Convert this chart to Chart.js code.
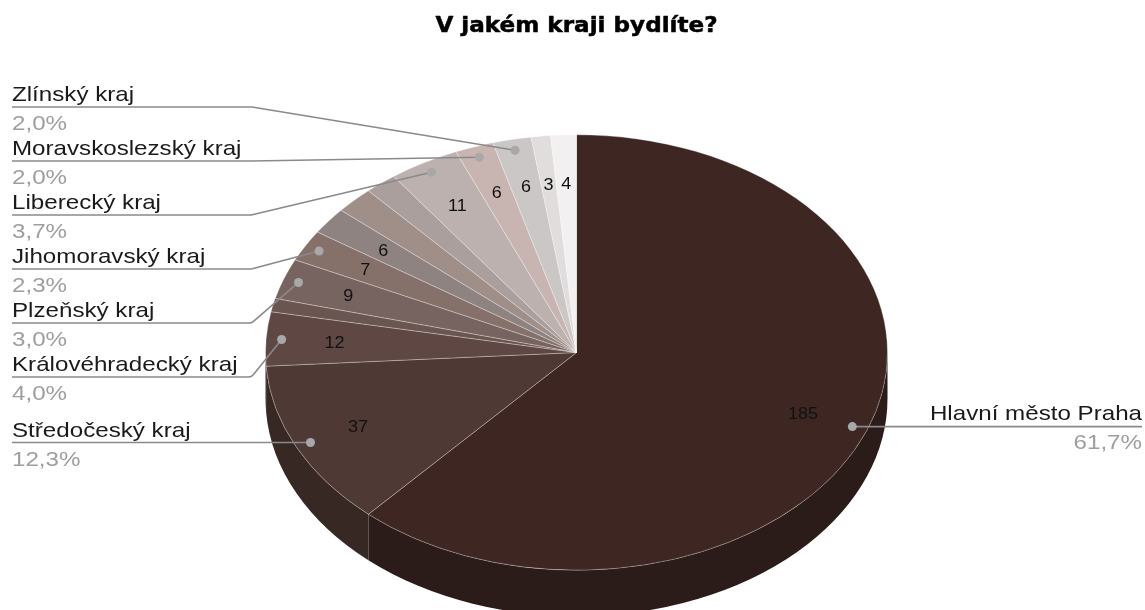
<!DOCTYPE html>
<html>
<head>
<meta charset="utf-8">
<script src="https://cdn.jsdelivr.net/npm/chart.js@4.4.1/dist/chart.umd.min.js"></script>
<style>
  html, body { margin: 0; padding: 0; background: #ffffff; overflow: hidden; }
  #wrap { position: relative; width: 1145px; height: 610px; overflow: hidden; }
  canvas { display: block; }
</style>
</head>
<body>
<div id="wrap"><canvas id="chart" width="1145" height="700"></canvas></div>
<script>
// ---- data ----
const chartTitle = 'V jakém kraji bydlíte?';
const regions = [
  'Hlavní město Praha', 'Středočeský kraj', 'Královéhradecký kraj', 'Karlovarský kraj',
  'Plzeňský kraj', 'Jihomoravský kraj', 'Olomoucký kraj', 'Ústecký kraj',
  'Pardubický kraj', 'Liberecký kraj', 'Moravskoslezský kraj', 'Zlínský kraj',
  'Kraj Vysočina', 'Jihočeský kraj'
];
const counts = [185, 37, 12, 3, 9, 7, 6, 6, 5, 11, 6, 6, 3, 4];
// which slices carry a value label inside the pie
const showCount = [true, true, true, false, true, true, true, false, false, true, true, true, true, true];
// which slices get a callout label with name and share
const showCallout = [true, true, true, false, true, true, false, false, false, true, true, true, false, false];

// ---- styles ----
const sliceColors = [
  '#3e2723', '#4e3934', '#5f4843', '#6b5550', '#77635f', '#86706a', '#8e8380',
  '#a08e89', '#aa9f9c', '#bdb1af', '#c8b5b1', '#cbc7c6', '#e1dddc', '#f2f0f0'
];
const TILT = 0.7;        // vertical squash of the pie face
const DEPTH = 46;        // thickness of the pie side
const TEXT_SX = 1.15;    // horizontal stretch of callout text
const LABEL_FONT = '21px "Liberation Sans", Arial, sans-serif';
const VALUE_FONT = '17px "Liberation Sans", Arial, sans-serif';
const TITLE_FONT = 'bold 21px "DejaVu Sans", sans-serif';
const CALLOUT_TOP = 107; // highest allowed underline of the left callouts
const CALLOUT_GAP = 54;  // vertical spacing of left callouts
const LEFT_X = 12;

function shade(hex, f) {
  const n = parseInt(hex.slice(1), 16);
  const r = Math.round(((n >> 16) & 255) * f);
  const g = Math.round(((n >> 8) & 255) * f);
  const b = Math.round((n & 255) * f);
  return `rgb(${r},${g},${b})`;
}

function applyTilt(ctx, base, cy, dy) {
  ctx.setTransform(base);
  ctx.translate(0, cy + dy);
  ctx.scale(1, TILT);
  ctx.translate(0, -cy);
}

function project(arc, angle, frac) {
  return {
    x: arc.x + Math.cos(angle) * arc.outerRadius * frac,
    y: arc.y + Math.sin(angle) * arc.outerRadius * frac * TILT
  };
}

function stretchedWidth(ctx, s, font, sx) {
  ctx.save(); ctx.font = font; const w = ctx.measureText(s).width * sx; ctx.restore();
  return w;
}

function drawText(ctx, s, x, y, font, color, align, sx, heavy) {
  ctx.save();
  ctx.font = font;
  ctx.fillStyle = color;
  ctx.textAlign = 'left';
  ctx.textBaseline = 'alphabetic';
  const w = ctx.measureText(s).width * sx;
  const x0 = align === 'right' ? x - w : align === 'center' ? x - w / 2 : x;
  ctx.translate(x0, y);
  ctx.scale(sx, 1);
  if (heavy) {
    ctx.strokeStyle = color;
    ctx.lineWidth = heavy;
    ctx.lineJoin = 'round';
    ctx.strokeText(s, 0, 0);
  }
  ctx.fillText(s, 0, 0);
  ctx.restore();
}

function pct(v, total) {
  return (v / total * 100).toFixed(1).replace('.', ',') + '%';
}

// Side walls of the pie and the tilted face
const pie3d = {
  id: 'pie3d',
  beforeDatasetsDraw(chart) {
    const ctx = chart.ctx;
    const arcs = chart.getDatasetMeta(0).data;
    const base = ctx.getTransform();
    arcs.forEach((a, i) => {
      const s = Math.max(a.startAngle, 0);
      const e = Math.min(a.endAngle, Math.PI);
      if (e <= s) return;
      ctx.save();
      ctx.beginPath();
      applyTilt(ctx, base, a.y, 0);
      ctx.arc(a.x, a.y, a.outerRadius, s, e);
      applyTilt(ctx, base, a.y, DEPTH);
      ctx.arc(a.x, a.y, a.outerRadius, e, s, true);
      ctx.closePath();
      ctx.setTransform(base);
      ctx.fillStyle = shade(sliceColors[i], 0.7);
      ctx.fill();
      ctx.restore();
    });
    ctx.save();
    applyTilt(ctx, base, arcs[0].y, 0);
  },
  afterDatasetsDraw(chart) {
    chart.ctx.restore();
  }
};

// Title, value labels and callouts
const annotations = {
  id: 'annotations',
  afterDraw(chart) {
    const ctx = chart.ctx;
    const arcs = chart.getDatasetMeta(0).data;
    const total = counts.reduce((s, v) => s + v, 0);
    const W = chart.width;

    drawText(ctx, chartTitle, arcs[0].x, 32, TITLE_FONT, '#000000', 'center', 1.1, 0.5);

    // value labels
    arcs.forEach((a, i) => {
      if (!showCount[i]) return;
      const m = (a.startAngle + a.endAngle) / 2;
      const p = project(a, m, 0.78);
      drawText(ctx, String(counts[i]), p.x, p.y + 6, VALUE_FONT, '#111111', 'center', 1.06);
    });

    // callouts
    const left = [], right = [];
    arcs.forEach((a, i) => {
      if (!showCallout[i]) return;
      const m = (a.startAngle + a.endAngle) / 2;
      const dot = project(a, m, 0.95);
      (dot.x < a.x ? left : right).push({ i, dot });
    });

    // stack the left callouts without overlap
    left.sort((p, q) => p.dot.y - q.dot.y);
    const clusters = [];
    left.forEach(item => {
      clusters.push({ items: [item], top: Math.max(item.dot.y, CALLOUT_TOP) });
      while (clusters.length > 1) {
        const c = clusters[clusters.length - 1];
        const p = clusters[clusters.length - 2];
        if (p.top + p.items.length * CALLOUT_GAP > c.top) {
          const items = p.items.concat(c.items);
          const mean = items.reduce((s, it) => s + it.dot.y, 0) / items.length;
          clusters.splice(-2, 2, {
            items,
            top: Math.max(mean - (items.length - 1) * CALLOUT_GAP / 2, CALLOUT_TOP)
          });
        } else break;
      }
    });
    clusters.forEach(c => c.items.forEach((it, k) => { it.u = c.top + k * CALLOUT_GAP; }));

    const maxW = Math.max(...left.map(it => stretchedWidth(ctx, regions[it.i], LABEL_FONT, TEXT_SX)));
    const bendX = LEFT_X + maxW + 10;

    ctx.save();
    ctx.strokeStyle = '#8a8a8a';
    ctx.lineWidth = 1.6;
    ctx.lineJoin = 'round';
    left.forEach(it => {
      ctx.beginPath();
      ctx.moveTo(LEFT_X, it.u);
      if (Math.abs(it.dot.y - it.u) > 2) {
        ctx.arcTo(bendX, it.u, it.dot.x, it.dot.y, 6);
      } else {
        ctx.lineTo(bendX, it.u);
      }
      ctx.lineTo(it.dot.x, it.dot.y);
      ctx.stroke();
    });
    right.forEach(it => {
      it.u = it.dot.y;
      ctx.beginPath();
      ctx.moveTo(it.dot.x, it.u);
      ctx.lineTo(W - 3, it.u);
      ctx.stroke();
    });
    ctx.fillStyle = '#a8a8a8';
    left.concat(right).forEach(it => {
      ctx.beginPath();
      ctx.arc(it.dot.x, it.dot.y, 4.5, 0, Math.PI * 2);
      ctx.fill();
    });
    ctx.restore();

    left.forEach(it => {
      drawText(ctx, regions[it.i], LEFT_X, it.u - 6, LABEL_FONT, '#1a1a1a', 'left', TEXT_SX);
      drawText(ctx, pct(counts[it.i], total), LEFT_X, it.u + 23, LABEL_FONT, '#9e9e9e', 'left', TEXT_SX);
    });
    right.forEach(it => {
      drawText(ctx, regions[it.i], W - 3, it.u - 7, LABEL_FONT, '#1a1a1a', 'right', TEXT_SX);
      drawText(ctx, pct(counts[it.i], total), W - 3, it.u + 22, LABEL_FONT, '#9e9e9e', 'right', TEXT_SX);
    });
  }
};

new Chart(document.getElementById('chart'), {
  type: 'pie',
  data: {
    labels: regions,
    datasets: [{
      data: counts,
      backgroundColor: sliceColors,
      borderColor: 'rgba(255,255,255,0.35)',
      borderWidth: 1,
      clip: false
    }]
  },
  options: {
    responsive: false,
    animation: false,
    events: [],
    layout: { padding: { left: 265, right: 257, top: 41, bottom: 36 } },
    plugins: {
      legend: { display: false },
      tooltip: { enabled: false },
      title: { display: false }
    }
  },
  plugins: [pie3d, annotations]
});
</script>
</body>
</html>
